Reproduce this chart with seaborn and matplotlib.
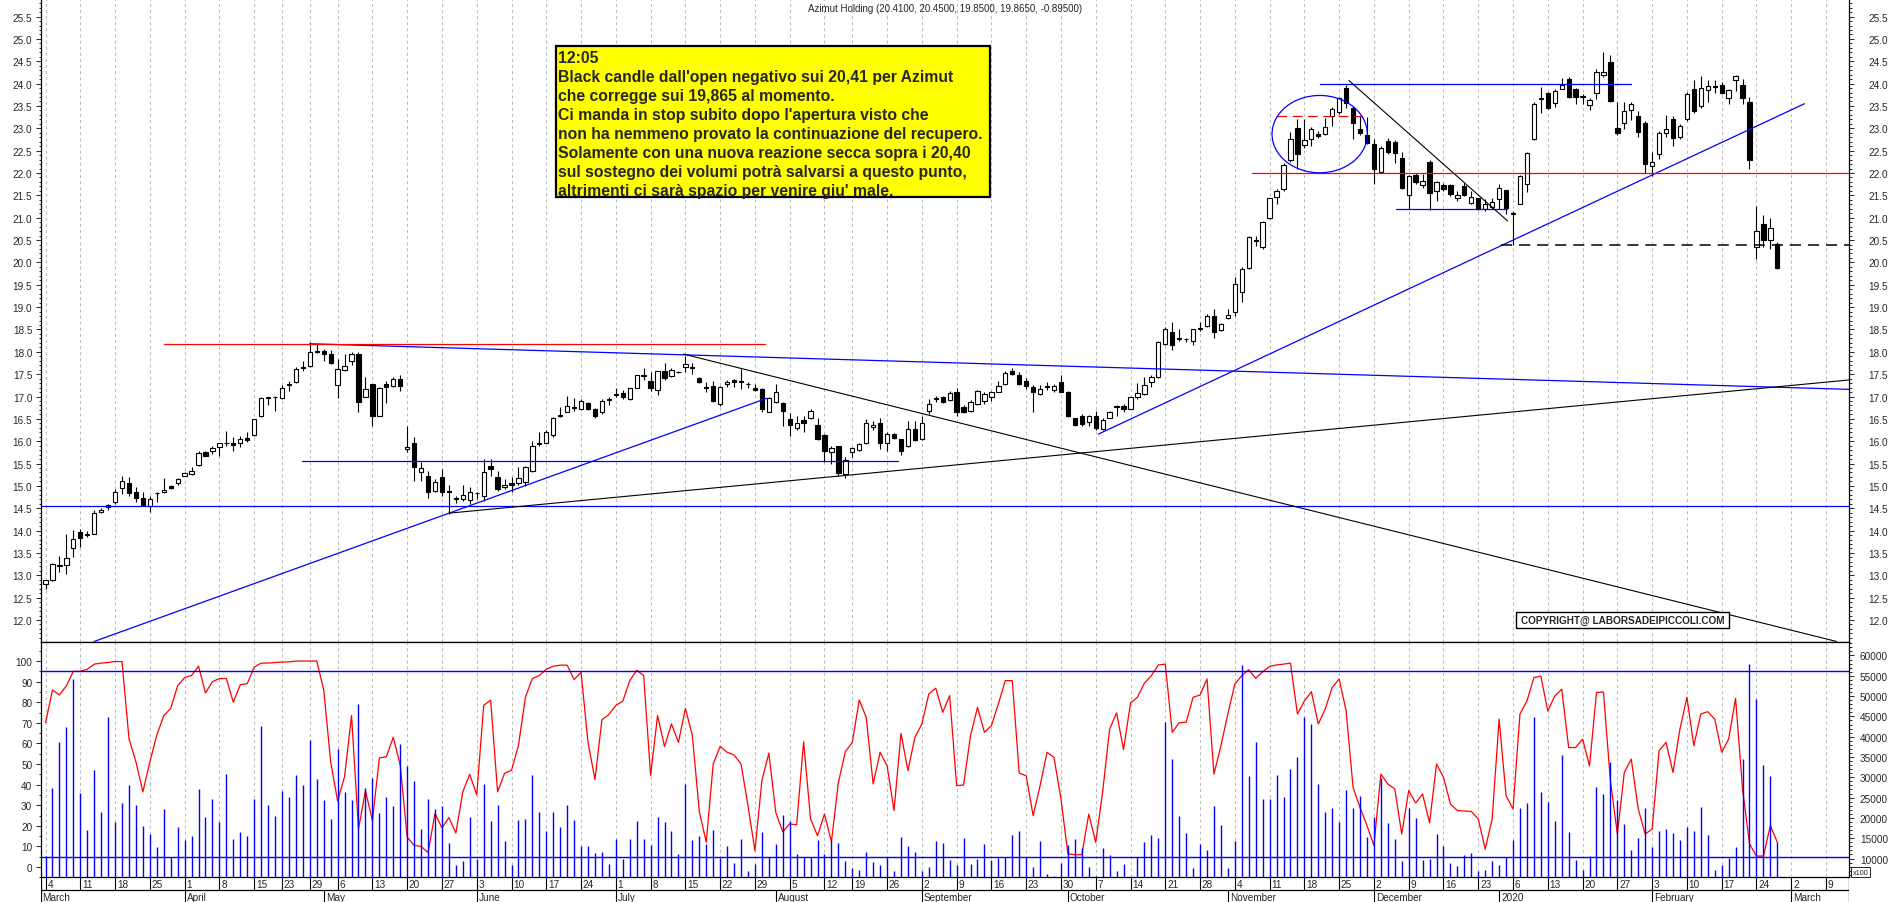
import numpy as np
import pandas as pd
import matplotlib
matplotlib.use("Agg")
import matplotlib.pyplot as plt
from matplotlib.patches import Ellipse, Rectangle
from matplotlib.ticker import MultipleLocator, FormatStrFormatter
import seaborn as sns

sns.set_style("white")
plt.rcParams["font.family"] = ["Liberation Sans", "DejaVu Sans"]
plt.rcParams["lines.scale_dashes"] = False

# ---------------- data (daily, 4 Mar 2019 -> 27 Feb 2020) ----------------
opens = [
    12.80, 12.90, 13.20, 13.22, 13.60, 13.96, 13.90, 13.92, 14.42, 14.53,
    14.65, 14.95, 15.06, 14.86, 14.72, 14.56, 14.83, 14.86, 15.00, 15.06,
    15.23, 15.27, 15.47, 15.76, 15.79, 15.88, 15.95, 15.97, 15.95, 16.07,
    16.14, 16.57, 16.97, 16.98, 16.96, 17.25, 17.32, 17.64, 17.69, 18.00,
    18.01, 17.95, 17.26, 17.60, 17.79, 17.95, 16.98, 17.29, 16.56, 17.29,
    17.23, 17.39, 15.83, 15.97, 15.32, 15.23, 14.89, 15.19, 14.86, 14.70,
    14.71, 14.69, 14.83, 14.77, 15.45, 15.21, 14.97, 15.06, 15.06, 15.09,
    15.34, 15.93, 15.97, 16.14, 16.56, 16.66, 16.75, 16.71, 16.85, 16.71,
    16.66, 16.93, 17.03, 17.08, 16.94, 17.20, 17.46, 17.35, 17.15, 17.56,
    17.45, 17.54, 17.65, 17.64, 17.41, 17.20, 17.23, 16.83, 17.27, 17.37,
    17.33, 17.28, 17.19, 17.17, 16.66, 16.87, 16.85, 16.50, 16.29, 16.47,
    16.51, 16.37, 16.14, 15.75, 15.89, 15.27, 15.75, 15.81, 15.96, 16.31,
    16.41, 15.96, 16.16, 16.05, 15.89, 16.27, 16.05, 16.68, 16.95, 17.00,
    16.92, 17.11, 16.77, 16.68, 16.83, 16.91, 16.98, 17.11, 17.28, 17.58,
    17.47, 17.34, 17.21, 17.06, 17.22, 17.15, 17.32, 17.11, 16.51, 16.57,
    16.44, 16.57, 16.27, 16.53, 16.77, 16.79, 16.72, 16.98, 17.06, 17.32,
    17.43, 18.17, 18.44, 18.28, 18.29, 18.25, 18.51, 18.57, 18.79, 18.49,
    18.75, 18.90, 19.33, 19.87, 20.48, 20.34, 20.99, 21.46, 21.64, 22.28,
    23.00, 22.63, 22.75, 22.87, 22.87, 23.27, 23.36, 23.90, 23.45, 22.98,
    22.84, 22.65, 22.03, 22.72, 22.69, 22.33, 21.51, 21.96, 21.73, 22.24,
    21.60, 21.74, 21.74, 21.43, 21.72, 21.34, 21.43, 21.19, 21.25, 21.42,
    21.62, 21.09, 21.31, 21.75, 22.76, 23.66, 23.79, 23.56, 23.89, 24.10,
    23.89, 23.71, 23.52, 23.80, 24.19, 24.49, 23.00, 23.11, 23.41, 23.28,
    23.13, 22.15, 22.42, 22.89, 23.21, 22.80, 23.21, 23.89, 23.50, 23.86,
    23.92, 23.97, 23.67, 24.09, 23.97, 23.58, 20.34, 20.85, 20.50, 20.41,
]
highs = [
    12.90, 13.27, 13.43, 13.92, 14.01, 14.03, 13.98, 14.47, 14.50, 14.60,
    14.92, 15.23, 15.19, 14.97, 14.87, 14.78, 14.87, 15.18, 15.03, 15.18,
    15.31, 15.42, 15.77, 15.77, 15.90, 15.97, 16.22, 16.09, 16.12, 16.20,
    16.50, 16.98, 17.00, 17.02, 17.26, 17.35, 17.65, 17.80, 18.21, 18.17,
    18.06, 18.04, 17.84, 17.94, 17.99, 17.99, 17.43, 17.29, 17.21, 17.35,
    17.43, 17.48, 16.35, 16.09, 15.53, 15.34, 15.15, 15.38, 15.01, 14.78,
    15.02, 14.98, 14.86, 15.60, 15.60, 15.34, 15.15, 15.19, 15.42, 15.45,
    16.01, 16.20, 16.24, 16.55, 16.76, 17.02, 16.96, 16.94, 16.87, 16.74,
    16.94, 17.00, 17.18, 17.15, 17.20, 17.47, 17.63, 17.54, 17.58, 17.75,
    17.63, 17.58, 17.90, 17.76, 17.43, 17.32, 17.35, 17.24, 17.37, 17.39,
    17.62, 17.33, 17.28, 17.18, 17.00, 17.29, 16.88, 16.63, 16.57, 16.57,
    16.71, 16.51, 16.16, 15.90, 15.90, 15.64, 15.86, 15.95, 16.50, 16.46,
    16.53, 16.20, 16.19, 16.06, 16.46, 16.46, 16.57, 16.94, 17.02, 17.02,
    17.13, 17.18, 16.82, 16.93, 17.15, 17.09, 17.13, 17.35, 17.56, 17.63,
    17.55, 17.41, 17.26, 17.26, 17.32, 17.28, 17.47, 17.13, 16.53, 16.61,
    16.59, 16.68, 16.53, 16.68, 16.81, 16.83, 17.00, 17.30, 17.43, 17.47,
    18.25, 18.55, 18.66, 18.51, 18.32, 18.51, 18.66, 18.85, 18.96, 18.64,
    18.96, 19.67, 19.89, 20.60, 20.60, 20.93, 21.45, 21.64, 22.22, 22.92,
    23.21, 23.21, 23.02, 22.94, 23.24, 23.47, 23.69, 23.97, 23.51, 23.28,
    23.25, 22.76, 22.61, 22.79, 22.73, 22.46, 21.96, 22.00, 21.98, 22.28,
    21.82, 21.78, 21.75, 21.60, 21.78, 21.60, 21.45, 21.42, 21.45, 21.76,
    21.62, 21.14, 21.95, 22.48, 23.58, 23.93, 23.82, 23.89, 24.12, 24.14,
    23.91, 23.77, 23.67, 24.33, 24.70, 24.64, 23.58, 23.58, 23.58, 23.39,
    23.17, 22.46, 22.95, 23.30, 23.28, 23.10, 23.81, 24.07, 24.18, 24.07,
    24.07, 24.04, 23.89, 24.20, 24.10, 23.69, 21.27, 21.05, 21.00, 20.45,
]
lows = [
    12.70, 12.88, 13.07, 13.03, 13.42, 13.63, 13.85, 13.92, 14.40, 14.45,
    14.60, 14.82, 14.78, 14.63, 14.54, 14.41, 14.63, 14.84, 14.92, 15.03,
    15.22, 15.25, 15.45, 15.67, 15.71, 15.68, 15.90, 15.79, 15.86, 15.99,
    16.12, 16.55, 16.82, 16.68, 16.94, 17.13, 17.30, 17.58, 17.65, 17.98,
    17.80, 17.73, 16.96, 17.58, 17.71, 16.66, 16.98, 16.33, 16.56, 16.85,
    17.21, 17.13, 15.75, 15.12, 15.12, 14.74, 14.87, 14.78, 14.37, 14.62,
    14.67, 14.60, 14.71, 14.67, 15.23, 14.89, 14.93, 14.86, 15.01, 15.00,
    15.30, 15.90, 15.96, 16.09, 16.55, 16.65, 16.68, 16.69, 16.69, 16.53,
    16.61, 16.80, 16.98, 16.94, 16.93, 17.18, 17.37, 17.13, 17.04, 17.38,
    17.43, 17.52, 17.54, 17.50, 17.30, 17.11, 16.87, 16.78, 17.21, 17.21,
    17.17, 17.20, 17.13, 16.66, 16.65, 16.85, 16.35, 16.12, 16.24, 16.20,
    16.49, 16.03, 15.53, 15.49, 15.23, 15.17, 15.64, 15.79, 15.94, 16.24,
    15.83, 15.79, 16.05, 15.69, 15.86, 16.00, 16.03, 16.61, 16.87, 16.86,
    16.91, 16.57, 16.64, 16.65, 16.80, 16.83, 16.91, 17.09, 17.26, 17.48,
    17.26, 17.17, 16.65, 17.04, 17.15, 17.11, 17.09, 16.55, 16.34, 16.33,
    16.33, 16.24, 16.24, 16.51, 16.57, 16.66, 16.71, 16.94, 17.04, 17.21,
    17.41, 18.15, 18.05, 18.25, 18.23, 18.15, 18.47, 18.55, 18.32, 18.47,
    18.73, 18.81, 19.11, 19.85, 20.36, 20.30, 20.97, 21.31, 21.60, 22.24,
    22.09, 22.57, 22.60, 22.79, 22.85, 23.06, 23.33, 23.45, 22.76, 22.84,
    22.64, 21.75, 22.01, 22.43, 22.23, 21.64, 21.19, 21.76, 21.66, 21.18,
    21.38, 21.60, 21.49, 21.38, 21.49, 21.31, 21.18, 21.15, 21.20, 21.19,
    21.09, 20.38, 21.31, 21.57, 22.74, 23.34, 23.43, 23.48, 23.88, 23.67,
    23.54, 23.54, 23.42, 23.66, 24.14, 23.59, 22.85, 22.98, 23.19, 22.80,
    22.01, 21.94, 22.31, 22.81, 22.61, 22.77, 23.17, 23.35, 23.46, 23.58,
    23.79, 23.76, 23.54, 23.84, 23.54, 22.09, 20.08, 20.35, 20.30, 19.85,
]
closes = [
    12.89, 13.25, 13.23, 13.38, 13.81, 13.83, 13.92, 14.39, 14.47, 14.58,
    14.87, 15.12, 14.84, 14.72, 14.58, 14.71, 14.84, 14.91, 14.95, 15.15,
    15.29, 15.34, 15.74, 15.68, 15.85, 15.96, 15.97, 15.92, 16.05, 16.03,
    16.50, 16.96, 16.99, 17.00, 17.20, 17.27, 17.61, 17.66, 17.99, 18.02,
    17.94, 17.75, 17.61, 17.69, 17.95, 16.88, 17.17, 16.56, 17.20, 17.22,
    17.39, 17.23, 15.88, 15.42, 15.39, 14.87, 15.09, 14.86, 14.88, 14.72,
    14.80, 14.87, 14.85, 15.32, 15.38, 14.93, 15.02, 15.01, 15.17, 15.42,
    15.89, 15.95, 16.20, 16.51, 16.58, 16.78, 16.77, 16.91, 16.71, 16.57,
    16.91, 16.95, 17.05, 17.00, 17.18, 17.47, 17.48, 17.18, 17.56, 17.41,
    17.59, 17.55, 17.73, 17.66, 17.32, 17.22, 16.91, 17.21, 17.33, 17.32,
    17.35, 17.29, 17.15, 16.71, 16.97, 17.09, 16.68, 16.36, 16.40, 16.40,
    16.67, 16.05, 15.79, 15.85, 15.29, 15.59, 15.84, 15.93, 16.40, 16.36,
    15.96, 16.16, 16.08, 15.79, 16.27, 16.03, 16.40, 16.83, 16.97, 16.88,
    17.08, 16.66, 16.66, 16.88, 17.12, 17.06, 17.09, 17.23, 17.53, 17.50,
    17.28, 17.24, 17.09, 17.17, 17.24, 17.23, 17.11, 16.57, 16.36, 16.38,
    16.56, 16.29, 16.48, 16.66, 16.79, 16.71, 16.98, 17.08, 17.26, 17.43,
    18.21, 18.51, 18.15, 18.30, 18.28, 18.51, 18.53, 18.81, 18.44, 18.62,
    18.83, 19.52, 19.85, 20.56, 20.50, 20.90, 21.43, 21.60, 22.18, 22.75,
    22.43, 22.73, 22.98, 22.82, 23.02, 23.43, 23.67, 23.57, 23.13, 22.89,
    22.67, 22.09, 22.57, 22.46, 22.45, 21.66, 21.94, 21.81, 21.83, 21.55,
    21.79, 21.64, 21.53, 21.51, 21.51, 21.47, 21.19, 21.31, 21.35, 21.66,
    21.21, 21.11, 21.93, 22.44, 23.54, 23.68, 23.45, 23.84, 23.97, 23.69,
    23.69, 23.73, 23.64, 24.25, 24.27, 23.60, 22.89, 23.39, 23.54, 22.92,
    22.20, 22.24, 22.89, 22.98, 22.78, 23.06, 23.77, 23.39, 23.91, 23.95,
    23.94, 23.80, 23.86, 24.18, 23.67, 22.30, 20.71, 20.50, 20.76, 19.865,
]
# volume (x100), right scale of the lower panel
volume = [
    10700, 27370, 38620, 42310, 54220, 26140, 17020, 31800, 21540, 44770,
    19080, 23670, 28110, 23180, 18090, 16040, 12750, 22200, 10460, 17680,
    14560, 15460, 27120, 20140, 24660, 18910, 30820, 14810, 16610, 15460,
    24660, 42720, 23180, 20550, 26630, 25150, 30650, 28110, 39190, 29590,
    24410, 19730, 36970, 26380, 24410, 48060, 27290, 29830, 21210, 25150,
    23020, 38210, 32870, 29010, 17270, 24660, 22200, 23020, 13820, 8480,
    9310, 20140, 9880, 28350, 19320, 23180, 14400, 8480, 19490, 19730,
    30650, 21540, 16860, 21540, 17850, 23260, 19490, 13080, 13080, 11360,
    11690, 8650, 14810, 9880, 14810, 19320, 14810, 13330, 20140, 18990,
    16860, 11110, 28350, 14640, 15630,
    13570, 17020, 10130, 13160, 8900, 14810, 6840, 8650, 16610, 10460,
    13570, 20720, 19320, 11110, 10460, 10460, 14640, 11110, 14640, 13910,
    9470, 7660, 7250, 11690, 9220, 8480, 10460, 6840, 15300, 13160,
    11690, 6840, 7990, 14400, 13820, 9720, 8480, 15050, 8650, 9880,
    13570, 9720, 10130, 10460, 15790, 16860, 10460, 7990, 14400, 6190,
    5610, 8900, 13330, 14810, 12590, 7990, 5610, 12590, 10870, 7010,
    8650, 5610, 10460, 14150, 15790, 15050, 43710, 34510, 20550, 16290,
    7660, 13570, 12100, 22930, 18260, 7660, 14400, 57660, 30410, 38620,
    24660, 24660, 30570, 25070, 32050, 35090, 44940,
    43130, 28350, 21370, 22440, 19070, 26950, 22440, 25480, 15380, 20140,
    29830, 18740, 14800, 9470, 22440, 19980, 9710, 9880, 16040, 13160,
    8890, 8230, 10860, 11360, 7000, 7250, 9470, 8400, 10290, 14640,
    22440, 23670, 44930, 26460, 23990, 19320, 35580, 16610, 9710, 7250,
    10540, 27690, 25890, 33850, 24410, 18500, 12180, 15050, 22440, 12910,
    16860, 17270, 16290, 14560, 17840, 16860, 22690, 15870, 7250, 8480,
    10210, 12910, 34510, 57910, 49290, 33030, 30400, 13980,
]
# oscillator (0-100), left scale of the lower panel
stoch = [
    70, 86, 83.5, 88, 95, 95, 96, 98.5, 99, 99.3,
    99.8, 99.7, 62.3, 51, 36.5, 51, 64, 73.5, 77, 88,
    92, 93, 97.5, 84.5, 90, 91.5, 91.5, 80, 88.5, 89,
    97, 99, 99, 99.3, 99.5, 99.6, 100, 100, 100, 100,
    86, 51, 32, 44, 73.5, 18.5, 37, 22.5, 53, 53.5,
    63, 49.5, 14.5, 10.5, 10, 7, 26, 19, 24, 16.5,
    36.5, 45, 35, 78.5, 81, 36.5, 45.5, 47, 59, 82.5,
    91.5, 93, 96, 97.5, 98, 98, 91, 94.5, 60.5, 42.5,
    71.5, 74, 78.5, 80.5, 90.5, 95.5, 93, 44.5, 73.5, 58.5,
    69.5, 60.5, 77, 64, 27,
    12.0, 50.0, 58.6, 55.7, 54.4, 50.0, 29.8, 7.9, 41.9, 55.3,
    26.5, 17.1, 20.9, 20.5, 60.8, 23.3, 15.2, 25.7, 12.3, 41.1,
    56.0, 60.5, 81.1, 72.7, 40.3, 55.7, 49.2, 27.4, 64.9, 46.8,
    63.0, 69.4, 84.0, 86.8, 75.1, 83.2, 39.5, 39.8, 63.8, 77.5,
    65.4, 68.6, 79.2, 90.5, 90.5, 45.6, 44.3, 24.9, 39.5, 55.7,
    53.2, 33.0, 6.3, 6.0, 6.0, 25.7, 12.0, 36.6, 67.0, 74.8,
    57.0, 79.6, 82.4, 89.3, 92.9, 98.1, 98.5, 65.4, 70.0, 70.3,
    82.4, 83.5, 91.3, 45.1, 58.9, 74.3, 88.8, 92.9, 95.8, 91.6,
    94.8, 97.4, 98.1, 98.5, 99.0, 74.3,
    80.6, 85.1, 69.4, 76.7, 87.2, 91.3, 75.9, 38.7, 28.9, 20.1,
    10.4, 45.1, 40.3, 37.9, 16.0, 37.1, 31.1, 35.4, 21.4, 50.0,
    43.5, 30.6, 27.4, 27.2, 27.0, 23.3, 8.7, 23.3, 71.8, 34.6,
    28.2, 74.3, 80.6, 92.0, 92.7, 75.7, 83.0, 86.3, 58.0, 58.0,
    62.1, 49.1, 84.7, 85.0, 41.8, 16.0, 45.9, 52.4, 28.2, 16.0,
    18.4, 56.5, 60.5, 45.9, 67.0, 82.4, 58.9, 74.3, 75.4, 71.8,
    55.7, 62.1, 81.9, 37.9, 11.2, 5.3, 5.3, 20.1, 12.0,
]
stoch_levels = [95, 5]

# hand-drawn trend lines: (day0, price0, day1, price1)
blue_lines = [(-0.65, 14.56, 259.3, 14.56), (36.9, 15.55, 122.6, 15.55),
              (7.0, 11.52, 103.7, 16.96), (38.0, 18.18, 259.3, 17.16),
              (151.4, 16.16, 252.9, 23.55), (183.3, 24.0, 228.0, 24.0),
              (194.2, 21.19, 210.2, 21.19)]
black_lines = [(58.0, 14.39, 259.3, 17.37), (91.7, 17.95, 257.5, 11.52),
               (187.4, 24.07, 210.2, 20.93)]
red_lines = [(17.0, 18.17, 103.5, 18.17), (173.4, 22.0, 259.3, 22.0)]
red_dashed = (177.1, 23.27, 189.3, 23.27)
black_dashed = (209.2, 20.40, 259.3, 20.40)
circle = (183.2, 22.87, 13.7, 1.73)

title = "Azimut Holding (20.4100, 20.4500, 19.8500, 19.8650, -0.89500)"
note = ["12:05",
        "Black candle dall'open negativo sui 20,41 per Azimut",
        "che corregge sui 19,865 al momento.",
        "Ci manda in stop subito dopo l'apertura visto che",
        "non ha nemmeno provato la continuazione del recupero.",
        "Solamente con una nuova reazione secca sopra i 20,40",
        "sul sostegno dei volumi potrà salvarsi a questo punto,",
        "altrimenti ci sarà spazio per venire giu' male."]
month_names = {1: "2020", 2: "February", 3: "March", 4: "April", 5: "May", 6: "June",
               7: "July", 8: "August", 9: "September", 10: "October",
               11: "November", 12: "December"}
holidays = ["2019-04-19", "2019-04-22", "2019-05-01", "2019-08-15", "2019-12-24",
            "2019-12-25", "2019-12-26", "2019-12-31", "2020-01-01"]

# ---------------- layout ----------------
W, H = 1890, 903
X0 = -0.65
X1 = X0 + 1808 / 6.955
BLUE, RED = "#0000ff", "#ff0000"

days = pd.bdate_range("2019-03-04", "2020-03-13", freq="C", holidays=holidays)
idx = np.arange(len(closes))

week_idx, month_idx = [], []
prev = None
for i, d in enumerate(days):
    wk = d.isocalendar()[1]
    if wk != prev and d != pd.Timestamp("2019-12-30"):
        week_idx.append(i)
    prev = wk
    if i > 0 and d.month != days[i - 1].month:
        month_idx.append(i)

fig = plt.figure(figsize=(W / 100, H / 100), dpi=100)


def px_box(x0, y0, x1, y1):
    return [x0 / W, 1 - y1 / H, (x1 - x0) / W, (y1 - y0) / H]


ax_p = fig.add_axes(px_box(41, 0, 1849, 643.3))
ax_s = fig.add_axes(px_box(41, 643.3, 1849, 878.3))
ax_d = fig.add_axes(px_box(41, 878.3, 1849, 903))

for ax in (ax_p, ax_s):
    ax.set_xlim(X0, X1)
    ax.set_xticks([])
    for w in week_idx:
        ax.axvline(w, color="#bdbdbd", lw=0.75, ls=(0, (2.2, 2.2)), zorder=0)
    for s in ax.spines.values():
        s.set_color("black")
        s.set_linewidth(0.9)

# ---- candles ----
o = np.array(opens); h = np.array(highs); l = np.array(lows); c = np.array(closes)
up = c >= o
ax_p.vlines(idx, l, h, color="black", lw=0.8, zorder=3)
body_lo = np.minimum(o, c)
body_h = np.maximum(np.abs(c - o), 0.004)
ax_p.bar(idx, body_h, bottom=body_lo, width=0.62,
         color=np.where(up, "white", "black"), edgecolor="black", linewidth=0.8, zorder=4)

for (xa, ya, xb, yb) in blue_lines:
    ax_p.plot([xa, xb], [ya, yb], color=BLUE, lw=0.9, zorder=5)
for (xa, ya, xb, yb) in black_lines:
    ax_p.plot([xa, xb], [ya, yb], color="black", lw=0.8, zorder=5)
for (xa, ya, xb, yb) in red_lines:
    ax_p.plot([xa, xb], [ya, yb], color=RED, lw=0.9, zorder=5)
ax_p.plot(red_dashed[::2], red_dashed[1::2], color=RED, lw=0.9, ls=(0, (7, 4)), zorder=5)
ax_p.plot(black_dashed[::2], black_dashed[1::2], color="black", lw=1.1, ls=(0, (8, 5)), zorder=5)
ax_p.add_patch(Ellipse(circle[:2], circle[2], circle[3], fill=False,
                       edgecolor=BLUE, lw=0.9, zorder=6))

ax_p.set_ylim(11.501, 25.893)
ticks_p = np.arange(12.0, 25.51, 0.5)
ax_p.set_yticks(ticks_p)
ax_p.yaxis.set_minor_locator(MultipleLocator(0.1))
ax_p.yaxis.set_major_formatter(FormatStrFormatter("%.1f"))
ax_p.tick_params(axis="y", which="major", direction="out", length=3.6, width=0.7,
                 labelsize=7.2, pad=2.6, right=False)
ax_p.tick_params(axis="y", which="minor", direction="out", length=1.8, width=0.7, right=False)
ax_p.spines["top"].set_visible(False)

ax_pr = ax_p.twinx()
ax_pr.set_ylim(ax_p.get_ylim())
ax_pr.set_yticks(ticks_p)
ax_pr.yaxis.set_minor_locator(MultipleLocator(0.1))
ax_pr.yaxis.set_major_formatter(FormatStrFormatter("%.1f"))
ax_pr.tick_params(axis="y", which="major", direction="out", length=3.6, width=0.7,
                  labelsize=7.2, pad=24.5)
ax_pr.tick_params(axis="y", which="minor", direction="out", length=1.8, width=0.7)
plt.setp(ax_pr.get_yticklabels(), ha="right")
for s in ax_pr.spines.values():
    s.set_visible(False)

# ---- lower panel: oscillator + volume ----
ax_v = ax_s.twinx()
ax_v.set_ylim(5370, 63250)
ax_v.vlines(idx, 5370, volume, color=BLUE, lw=1.0)
ax_v.set_yticks(np.arange(10000, 60001, 5000))
ax_v.yaxis.set_minor_locator(MultipleLocator(1000))
ax_v.tick_params(axis="y", which="major", direction="out", length=3.6, width=0.7,
                 labelsize=7.2, pad=24.5)
ax_v.tick_params(axis="y", which="minor", direction="out", length=1.8, width=0.7)
plt.setp(ax_v.get_yticklabels(), ha="right")
for s in ax_v.spines.values():
    s.set_visible(False)

sns.lineplot(x=idx, y=stoch, ax=ax_s, color=RED, linewidth=0.9, zorder=3)
for lev in stoch_levels:
    ax_s.axhline(lev, color=BLUE, lw=1.0, zorder=4)
ax_s.set_ylim(-5.0, 109.1)
ax_s.set_yticks(np.arange(0, 101, 10))
ax_s.yaxis.set_minor_locator(MultipleLocator(5))
ax_s.tick_params(axis="y", which="major", direction="out", length=3.6, width=0.7,
                 labelsize=7.2, pad=2.6)
ax_s.tick_params(axis="y", which="minor", direction="out", length=1.8, width=0.7)
ax_s.set_xlabel("")
ax_s.set_ylabel("")
ax_s.set_xlim(X0, X1)

# ---- date strip ----
ax_d.set_xlim(X0, X1)
ax_d.set_ylim(0, 1)
ax_d.axis("off")
mid = 0.486
ax_d.plot([X0, X1], [mid, mid], color="black", lw=0.9)
ax_d.vlines([X0, X1], 0, 1, color="black", lw=0.9)
ax_d.vlines(week_idx, mid, 1, color="black", lw=0.8)
ax_d.vlines(month_idx, 0, mid, color="black", lw=0.8)
for w in week_idx:
    ax_d.text(w + 0.25, 0.74, str(days[w].day), fontsize=7.2, ha="left", va="center")
ax_d.text(X0 + 0.15, 0.22, "March", fontsize=7.2, ha="left", va="center")
for m in month_idx:
    ax_d.text(m + 0.3, 0.22, month_names[days[m].month], fontsize=7.2,
              ha="left", va="center")

# ---- texts and boxes ----
fig.text(945 / W, 1 - 8.5 / H, title, fontsize=7, ha="center", va="center")

fig.add_artist(Rectangle((556 / W, 1 - 198.3 / H), 434 / W, 151 / H,
                         transform=fig.transFigure, facecolor="#ffff00",
                         edgecolor="black", lw=1.6, zorder=10))
for k, line in enumerate(note):
    fig.text(558.5 / W, 1 - (62.7 + 19.05 * k) / H, line, fontsize=11.3,
             fontweight="bold", ha="left", va="baseline", zorder=11)

fig.add_artist(Rectangle((1516 / W, 1 - 629 / H), 213 / W, 16 / H,
                         transform=fig.transFigure, facecolor="white",
                         edgecolor="black", lw=1.0, zorder=10))
fig.text(1622.5 / W, 1 - 621 / H, "COPYRIGHT@ LABORSADEIPICCOLI.COM", fontsize=7.2,
         fontweight="bold", ha="center", va="center", zorder=11)

fig.add_artist(Rectangle((1851 / W, 1 - 878.3 / H), 19 / W, 10 / H,
                         transform=fig.transFigure, facecolor="white",
                         edgecolor="black", lw=0.6, zorder=10))
fig.text(1860.5 / W, 1 - 873.3 / H, "x100", fontsize=5.2, ha="center", va="center", zorder=11)

fig.savefig("out.png", dpi=100, facecolor="white")
